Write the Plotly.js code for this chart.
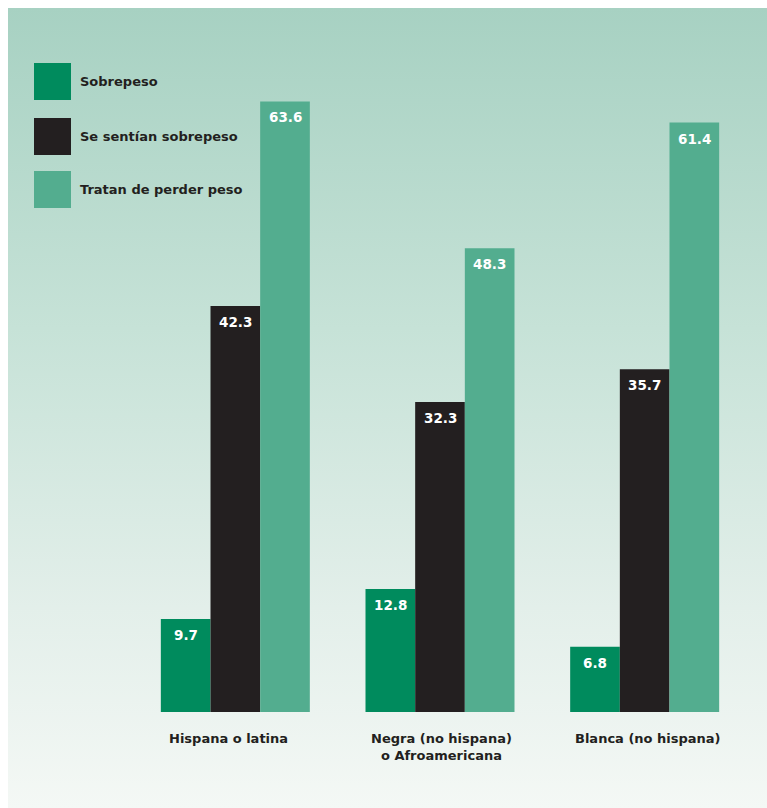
<!DOCTYPE html>
<html>
<head>
<meta charset="utf-8">
<script src="https://cdn.plot.ly/plotly-3.0.1.min.js"></script>
<style>
  html, body { margin: 0; padding: 0; background: #ffffff; }
  #bg { position: absolute; left: 8px; top: 8px; width: 759px; height: 800px;
        background: linear-gradient(to bottom, #a7d1c2 0%, #c6e2d7 40%, #e3efea 75%, #f4f8f5 100%); }
  #chart { position: absolute; left: 0; top: 0; width: 767px; height: 808px; }
</style>
</head>
<body>
<div id="bg"></div>
<div id="chart"></div>
<script>
// ---- data ----
const categories = ["Hispana o latina", "Negra (no hispana)<br>o Afroamericana", "Blanca (no hispana)"];
const seriesNames = ["Sobrepeso", "Se sentían sobrepeso", "Tratan de perder peso"];
const sobrepeso = [9.7, 12.8, 6.8];
const seSentian = [42.3, 32.3, 35.7];
const tratan = [63.6, 48.3, 61.4];
const colors = ["#008b5d", "#231f20", "#53ad8f"];

const seriesValues = [sobrepeso, seSentian, tratan];

// ---- layout geometry ----
const W = 767, H = 808;
const M = {l: 133, r: 20, t: 40, b: 96};
const plotW = W - M.l - M.r, plotH = H - M.t - M.b;
const px2x = p => (p - M.l) / plotW;
const py2y = p => (H - M.b - p) / plotH;
const catLabelShift = [-7, 1, 3];

const FONT = "DejaVu Sans";
const txtColor = "#231f20";

const traces = seriesValues.map((vals, i) => ({
  type: "bar",
  name: seriesNames[i],
  x: categories,
  y: vals,
  marker: {color: colors[i], line: {width: 0}},
  hoverinfo: "skip",
  showlegend: false
}));

const annotations = [];
const nS = seriesValues.length;
const barGap = 0.272;
const barW = (1 - barGap) / nS;
// data labels
seriesValues.forEach((vals, i) => {
  vals.forEach((v, j) => {
    annotations.push({
      x: j - (1 - barGap) / 2 + barW * (i + 0.5),
      y: v, xref: "x", yref: "y",
      text: v.toFixed(1),
      showarrow: false,
      xanchor: "center", yanchor: "middle",
      yshift: -16,
      font: {family: FONT, size: 13.5, color: "#ffffff", weight: "bold"}
    });
  });
});

// category labels
categories.forEach((c, j) => {
  annotations.push({
    x: j, y: 0, xref: "x", yref: "y",
    text: c, showarrow: false,
    xanchor: "center", yanchor: "top",
    xshift: catLabelShift[j], yshift: -17,
    align: "center",
    font: {family: FONT, size: 13, color: txtColor, weight: "bold"}
  });
});

// legend (drawn as shapes + text)
const shapes = [];
const legTop = [63, 118, 171];
seriesNames.forEach((n, i) => {
  shapes.push({
    type: "rect", xref: "paper", yref: "paper",
    x0: px2x(34), x1: px2x(71),
    y0: py2y(legTop[i] + 37), y1: py2y(legTop[i]),
    fillcolor: colors[i], line: {width: 0}
  });
  annotations.push({
    xref: "paper", yref: "paper",
    x: px2x(78), y: py2y(legTop[i] + 18.5),
    xanchor: "left", yanchor: "middle",
    text: n, showarrow: false,
    font: {family: FONT, size: 13, color: txtColor, weight: "bold"}
  });
});

const layout = {
  width: W, height: H,
  margin: M,
  paper_bgcolor: "rgba(0,0,0,0)",
  plot_bgcolor: "rgba(0,0,0,0)",
  barmode: "group",
  bargap: barGap,
  bargroupgap: 0,
  showlegend: false,
  xaxis: {
    type: "category",
    range: [-0.5, 2.5],
    showgrid: false, zeroline: false, showline: false,
    ticks: "", showticklabels: false,
    fixedrange: true
  },
  yaxis: {
    range: [0, 70],
    showgrid: false, zeroline: false, showline: false,
    showticklabels: false, ticks: "",
    fixedrange: true
  },
  annotations: annotations,
  shapes: shapes,
  font: {family: FONT}
};

Plotly.newPlot("chart", traces, layout, {displayModeBar: false, staticPlot: true});
</script>
</body>
</html>
